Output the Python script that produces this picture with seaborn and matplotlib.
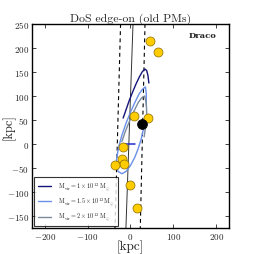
import matplotlib
matplotlib.use("Agg")
import matplotlib.pyplot as plt
import seaborn as sns
import pandas as pd

# ---- data ----
sat_x = [46, 64, 8, 41, -17, -19, -16, -35, -1, 15]
sat_y = [215, 192, 58, 55, -6, -31, -42, -44, -86, -134]
draco_x = [28]
draco_y = [42]

navy_x = [-17, -10, -3, 5, 13, 21, 28, 34, 38, 41, 43]
navy_y = [54, 72, 90, 108, 125, 140, 151, 156, 153, 142, 127]

blue_x = [37, 37, 35, 28, 20, 10, 0, -10, -20, -27, -32, -33, -29, -20, -10, 0, 10, 18, 25, 30, 33]
blue_y = [80, 105, 119, 114, 104, 86, 66, 44, 18, -5, -28, -45, -57, -62, -57, -45, -28, -10, 10, 30, 50]

gray_x = [-20, -12, -2, 8, 18, 26, 33, 37, 38, 36, 32]
gray_y = [5, 26, 48, 68, 86, 96, 100, 85, 65, 40, 15]

dash_left_x = [-23, -36]
dash_right_x = [34, 23]
dash_y = [250, -175]
solid_x = [6, -10.5]
solid_y = [250, -175]
disk_x = [-15, 10]
disk_y = [0, 0]

labels = [r'$\mathrm{M_{vir}=1\times10^{12}\,M_{\odot}}$',
          r'$\mathrm{M_{vir}=1.5\times10^{12}\,M_{\odot}}$',
          r'$\mathrm{M_{vir}=2\times10^{12}\,M_{\odot}}$']
colors = ['#14147a', '#6a8fe6', '#7b8a9c']

sns.set_style('ticks')
plt.rcParams['font.family'] = ['cmr10', 'DejaVu Serif']
plt.rcParams['mathtext.fontset'] = 'cm'
plt.rcParams['axes.formatter.use_mathtext'] = True

fig = plt.figure(figsize=(2.55, 2.55), dpi=100)
ax = fig.add_axes([0.125, 0.102, 0.773, 0.8])

ax.plot(dash_left_x, dash_y, color='black', ls=(0, (3.5, 3)), lw=0.8, zorder=1)
ax.plot(dash_right_x, dash_y, color='black', ls=(0, (3.5, 3)), lw=0.8, zorder=1)
ax.plot(solid_x, solid_y, color='#333333', lw=0.7, zorder=1)

for xs, ys, c, lab in [(navy_x, navy_y, colors[0], labels[0]),
                       (blue_x, blue_y, colors[1], labels[1]),
                       (gray_x, gray_y, colors[2], labels[2])]:
    df = pd.DataFrame({'x': xs, 'y': ys})
    sns.lineplot(data=df, x='x', y='y', sort=False, estimator=None, color=c,
                 lw=1.0, ax=ax, label=lab, zorder=2)

ax.plot(disk_x, disk_y, color='#1f2fd0', lw=1.1, zorder=3)

sns.scatterplot(x=sat_x, y=sat_y, color='#ffcc00', edgecolor='#8a6d00', s=42,
                linewidth=0.5, ax=ax, zorder=4, legend=False)
sns.scatterplot(x=draco_x, y=draco_y, color='black', edgecolor='black', s=50,
                ax=ax, zorder=5, legend=False)

ax.set_xlim(-230, 230)
ax.set_ylim(-175, 250)
ax.set_xticks([-200, -100, 0, 100, 200])
ax.set_yticks([-150, -100, -50, 0, 50, 100, 150, 200, 250])
ax.tick_params(direction='in', top=True, right=True, labelsize=6.5, length=3,
               width=0.6, pad=2)
ax.set_xlabel('[kpc]', fontsize=9.5, labelpad=-1)
ax.set_ylabel('[kpc]', fontsize=9)
ax.yaxis.set_label_coords(-0.085, 0.5)
ax.set_title('DoS edge-on (old PMs)', fontsize=8.5, pad=2)
for s in ax.spines.values():
    s.set_linewidth(1.0)
    s.set_color('black')
ax.text(0.868, 0.945, 'Draco', transform=ax.transAxes, fontsize=6,
        fontweight='bold', ha='center', va='center', family='DejaVu Serif')

leg = ax.legend(loc='lower left', fontsize=4.5, frameon=True, fancybox=False,
                borderaxespad=0.3, handlelength=2.2, labelspacing=0.6,
                borderpad=0.6, handletextpad=1.0)
leg.get_frame().set_edgecolor('black')
leg.get_frame().set_linewidth(0.8)

fig.savefig('out.png', dpi=100)
